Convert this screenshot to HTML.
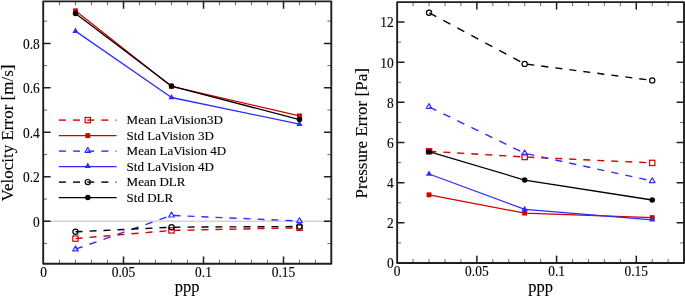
<!DOCTYPE html>
<html><head><meta charset="utf-8"><style>
html,body{margin:0;padding:0;background:#fff;}
svg{display:block;font-family:"Liberation Serif", serif;will-change:transform;} text{stroke:#000;stroke-width:0.12px;}
</style></head><body>
<svg width="685" height="297" viewBox="0 0 685 297">
<rect width="685" height="297" fill="#fff"/>
<line x1="43.20" y1="221.30" x2="331.30" y2="221.30" stroke="#d4d4d4" stroke-width="1.5" />
<line x1="75.50" y1="238.60" x2="82.50" y2="238.00" stroke="#d00000" stroke-width="1.4" stroke-linecap="butt"/>
<line x1="89.50" y1="237.40" x2="96.50" y2="236.81" stroke="#d00000" stroke-width="1.4" stroke-linecap="butt"/>
<line x1="103.50" y1="236.21" x2="110.50" y2="235.61" stroke="#d00000" stroke-width="1.4" stroke-linecap="butt"/>
<line x1="117.50" y1="235.01" x2="124.50" y2="234.41" stroke="#d00000" stroke-width="1.4" stroke-linecap="butt"/>
<line x1="131.50" y1="233.82" x2="138.50" y2="233.22" stroke="#d00000" stroke-width="1.4" stroke-linecap="butt"/>
<line x1="145.50" y1="232.62" x2="152.50" y2="232.02" stroke="#d00000" stroke-width="1.4" stroke-linecap="butt"/>
<line x1="159.50" y1="231.43" x2="166.50" y2="230.83" stroke="#d00000" stroke-width="1.4" stroke-linecap="butt"/>
<line x1="173.50" y1="230.36" x2="180.50" y2="230.22" stroke="#d00000" stroke-width="1.4" stroke-linecap="butt"/>
<line x1="187.50" y1="230.08" x2="194.50" y2="229.93" stroke="#d00000" stroke-width="1.4" stroke-linecap="butt"/>
<line x1="201.50" y1="229.79" x2="208.50" y2="229.65" stroke="#d00000" stroke-width="1.4" stroke-linecap="butt"/>
<line x1="215.50" y1="229.51" x2="222.50" y2="229.36" stroke="#d00000" stroke-width="1.4" stroke-linecap="butt"/>
<line x1="229.50" y1="229.22" x2="236.50" y2="229.08" stroke="#d00000" stroke-width="1.4" stroke-linecap="butt"/>
<line x1="243.50" y1="228.94" x2="250.50" y2="228.80" stroke="#d00000" stroke-width="1.4" stroke-linecap="butt"/>
<line x1="257.50" y1="228.65" x2="264.50" y2="228.51" stroke="#d00000" stroke-width="1.4" stroke-linecap="butt"/>
<line x1="271.50" y1="228.37" x2="278.50" y2="228.23" stroke="#d00000" stroke-width="1.4" stroke-linecap="butt"/>
<line x1="285.50" y1="228.08" x2="292.50" y2="227.94" stroke="#d00000" stroke-width="1.4" stroke-linecap="butt"/>
<polyline points="75.50,10.80 171.50,86.40 299.50,115.90" fill="none" stroke="#d00000" stroke-width="1.3" stroke-linejoin="round"/>
<rect x="72.85" y="235.95" width="5.3" height="5.3" fill="none" stroke="#d00000" stroke-width="1.2"/>
<rect x="168.85" y="227.75" width="5.3" height="5.3" fill="none" stroke="#d00000" stroke-width="1.2"/>
<rect x="296.85" y="225.15" width="5.3" height="5.3" fill="none" stroke="#d00000" stroke-width="1.2"/>
<rect x="73.05" y="8.35" width="4.9" height="4.9" fill="#d00000" stroke="none" stroke-width="1.2"/>
<rect x="169.05" y="83.95" width="4.9" height="4.9" fill="#d00000" stroke="none" stroke-width="1.2"/>
<rect x="297.05" y="113.45" width="4.9" height="4.9" fill="#d00000" stroke="none" stroke-width="1.2"/>
<line x1="75.50" y1="249.20" x2="82.50" y2="246.74" stroke="#2c2cff" stroke-width="1.4" stroke-linecap="butt"/>
<line x1="89.50" y1="244.27" x2="96.50" y2="241.81" stroke="#2c2cff" stroke-width="1.4" stroke-linecap="butt"/>
<line x1="103.50" y1="239.34" x2="110.50" y2="236.88" stroke="#2c2cff" stroke-width="1.4" stroke-linecap="butt"/>
<line x1="117.50" y1="234.41" x2="124.50" y2="231.95" stroke="#2c2cff" stroke-width="1.4" stroke-linecap="butt"/>
<line x1="131.50" y1="229.48" x2="138.50" y2="227.02" stroke="#2c2cff" stroke-width="1.4" stroke-linecap="butt"/>
<line x1="145.50" y1="224.55" x2="152.50" y2="222.09" stroke="#2c2cff" stroke-width="1.4" stroke-linecap="butt"/>
<line x1="159.50" y1="219.62" x2="166.50" y2="217.16" stroke="#2c2cff" stroke-width="1.4" stroke-linecap="butt"/>
<line x1="173.50" y1="215.49" x2="180.50" y2="215.79" stroke="#2c2cff" stroke-width="1.4" stroke-linecap="butt"/>
<line x1="187.50" y1="216.10" x2="194.50" y2="216.41" stroke="#2c2cff" stroke-width="1.4" stroke-linecap="butt"/>
<line x1="201.50" y1="216.71" x2="208.50" y2="217.02" stroke="#2c2cff" stroke-width="1.4" stroke-linecap="butt"/>
<line x1="215.50" y1="217.33" x2="222.50" y2="217.63" stroke="#2c2cff" stroke-width="1.4" stroke-linecap="butt"/>
<line x1="229.50" y1="217.94" x2="236.50" y2="218.24" stroke="#2c2cff" stroke-width="1.4" stroke-linecap="butt"/>
<line x1="243.50" y1="218.55" x2="250.50" y2="218.86" stroke="#2c2cff" stroke-width="1.4" stroke-linecap="butt"/>
<line x1="257.50" y1="219.16" x2="264.50" y2="219.47" stroke="#2c2cff" stroke-width="1.4" stroke-linecap="butt"/>
<line x1="271.50" y1="219.78" x2="278.50" y2="220.08" stroke="#2c2cff" stroke-width="1.4" stroke-linecap="butt"/>
<line x1="285.50" y1="220.39" x2="292.50" y2="220.69" stroke="#2c2cff" stroke-width="1.4" stroke-linecap="butt"/>
<polyline points="75.50,31.10 171.50,97.50 299.50,124.20" fill="none" stroke="#2c2cff" stroke-width="1.3" stroke-linejoin="round"/>
<polygon points="75.50,245.97 72.70,250.82 78.30,250.82" fill="none" stroke="#2c2cff" stroke-width="1.2" stroke-linejoin="round"/>
<polygon points="171.50,212.17 168.70,217.02 174.30,217.02" fill="none" stroke="#2c2cff" stroke-width="1.2" stroke-linejoin="round"/>
<polygon points="299.50,217.77 296.70,222.62 302.30,222.62" fill="none" stroke="#2c2cff" stroke-width="1.2" stroke-linejoin="round"/>
<polygon points="75.50,27.52 72.40,32.89 78.60,32.89" fill="#2c2cff" stroke="none" stroke-width="1.2" stroke-linejoin="round"/>
<polygon points="171.50,93.92 168.40,99.29 174.60,99.29" fill="#2c2cff" stroke="none" stroke-width="1.2" stroke-linejoin="round"/>
<polygon points="299.50,120.62 296.40,125.99 302.60,125.99" fill="#2c2cff" stroke="none" stroke-width="1.2" stroke-linejoin="round"/>
<line x1="75.50" y1="231.80" x2="82.50" y2="231.46" stroke="#000000" stroke-width="1.4" stroke-linecap="butt"/>
<line x1="89.50" y1="231.13" x2="96.50" y2="230.79" stroke="#000000" stroke-width="1.4" stroke-linecap="butt"/>
<line x1="103.50" y1="230.46" x2="110.50" y2="230.12" stroke="#000000" stroke-width="1.4" stroke-linecap="butt"/>
<line x1="117.50" y1="229.79" x2="124.50" y2="229.45" stroke="#000000" stroke-width="1.4" stroke-linecap="butt"/>
<line x1="131.50" y1="229.12" x2="138.50" y2="228.78" stroke="#000000" stroke-width="1.4" stroke-linecap="butt"/>
<line x1="145.50" y1="228.45" x2="152.50" y2="228.11" stroke="#000000" stroke-width="1.4" stroke-linecap="butt"/>
<line x1="159.50" y1="227.77" x2="166.50" y2="227.44" stroke="#000000" stroke-width="1.4" stroke-linecap="butt"/>
<line x1="173.50" y1="227.19" x2="180.50" y2="227.15" stroke="#000000" stroke-width="1.4" stroke-linecap="butt"/>
<line x1="187.50" y1="227.11" x2="194.50" y2="227.07" stroke="#000000" stroke-width="1.4" stroke-linecap="butt"/>
<line x1="201.50" y1="227.04" x2="208.50" y2="227.00" stroke="#000000" stroke-width="1.4" stroke-linecap="butt"/>
<line x1="215.50" y1="226.96" x2="222.50" y2="226.92" stroke="#000000" stroke-width="1.4" stroke-linecap="butt"/>
<line x1="229.50" y1="226.88" x2="236.50" y2="226.84" stroke="#000000" stroke-width="1.4" stroke-linecap="butt"/>
<line x1="243.50" y1="226.81" x2="250.50" y2="226.77" stroke="#000000" stroke-width="1.4" stroke-linecap="butt"/>
<line x1="257.50" y1="226.73" x2="264.50" y2="226.69" stroke="#000000" stroke-width="1.4" stroke-linecap="butt"/>
<line x1="271.50" y1="226.65" x2="278.50" y2="226.61" stroke="#000000" stroke-width="1.4" stroke-linecap="butt"/>
<line x1="285.50" y1="226.58" x2="292.50" y2="226.54" stroke="#000000" stroke-width="1.4" stroke-linecap="butt"/>
<polyline points="75.50,13.60 171.50,86.10 299.50,119.60" fill="none" stroke="#000000" stroke-width="1.3" stroke-linejoin="round"/>
<circle cx="75.50" cy="231.80" r="2.6" fill="none" stroke="#000000" stroke-width="1.2"/>
<circle cx="171.50" cy="227.20" r="2.6" fill="none" stroke="#000000" stroke-width="1.2"/>
<circle cx="299.50" cy="226.50" r="2.6" fill="none" stroke="#000000" stroke-width="1.2"/>
<circle cx="75.50" cy="13.60" r="2.75" fill="#000000" stroke="none" stroke-width="1.2"/>
<circle cx="171.50" cy="86.10" r="2.75" fill="#000000" stroke="none" stroke-width="1.2"/>
<circle cx="299.50" cy="119.60" r="2.75" fill="#000000" stroke="none" stroke-width="1.2"/>
<line x1="123.50" y1="263.70" x2="123.50" y2="256.90" stroke="#1e1e1e" stroke-width="1.5" stroke-linecap="round"/>
<line x1="123.50" y1="1.35" x2="123.50" y2="8.15" stroke="#1e1e1e" stroke-width="1.5" stroke-linecap="round"/>
<line x1="203.50" y1="263.70" x2="203.50" y2="256.90" stroke="#1e1e1e" stroke-width="1.5" stroke-linecap="round"/>
<line x1="203.50" y1="1.35" x2="203.50" y2="8.15" stroke="#1e1e1e" stroke-width="1.5" stroke-linecap="round"/>
<line x1="283.50" y1="263.70" x2="283.50" y2="256.90" stroke="#1e1e1e" stroke-width="1.5" stroke-linecap="round"/>
<line x1="283.50" y1="1.35" x2="283.50" y2="8.15" stroke="#1e1e1e" stroke-width="1.5" stroke-linecap="round"/>
<line x1="59.50" y1="263.70" x2="59.50" y2="260.20" stroke="#555" stroke-width="0.9" stroke-linecap="round"/>
<line x1="59.50" y1="1.35" x2="59.50" y2="4.85" stroke="#555" stroke-width="0.9" stroke-linecap="round"/>
<line x1="75.50" y1="263.70" x2="75.50" y2="260.20" stroke="#555" stroke-width="0.9" stroke-linecap="round"/>
<line x1="75.50" y1="1.35" x2="75.50" y2="4.85" stroke="#555" stroke-width="0.9" stroke-linecap="round"/>
<line x1="91.50" y1="263.70" x2="91.50" y2="260.20" stroke="#555" stroke-width="0.9" stroke-linecap="round"/>
<line x1="91.50" y1="1.35" x2="91.50" y2="4.85" stroke="#555" stroke-width="0.9" stroke-linecap="round"/>
<line x1="107.50" y1="263.70" x2="107.50" y2="260.20" stroke="#555" stroke-width="0.9" stroke-linecap="round"/>
<line x1="107.50" y1="1.35" x2="107.50" y2="4.85" stroke="#555" stroke-width="0.9" stroke-linecap="round"/>
<line x1="139.50" y1="263.70" x2="139.50" y2="260.20" stroke="#555" stroke-width="0.9" stroke-linecap="round"/>
<line x1="139.50" y1="1.35" x2="139.50" y2="4.85" stroke="#555" stroke-width="0.9" stroke-linecap="round"/>
<line x1="155.50" y1="263.70" x2="155.50" y2="260.20" stroke="#555" stroke-width="0.9" stroke-linecap="round"/>
<line x1="155.50" y1="1.35" x2="155.50" y2="4.85" stroke="#555" stroke-width="0.9" stroke-linecap="round"/>
<line x1="171.50" y1="263.70" x2="171.50" y2="260.20" stroke="#555" stroke-width="0.9" stroke-linecap="round"/>
<line x1="171.50" y1="1.35" x2="171.50" y2="4.85" stroke="#555" stroke-width="0.9" stroke-linecap="round"/>
<line x1="187.50" y1="263.70" x2="187.50" y2="260.20" stroke="#555" stroke-width="0.9" stroke-linecap="round"/>
<line x1="187.50" y1="1.35" x2="187.50" y2="4.85" stroke="#555" stroke-width="0.9" stroke-linecap="round"/>
<line x1="219.50" y1="263.70" x2="219.50" y2="260.20" stroke="#555" stroke-width="0.9" stroke-linecap="round"/>
<line x1="219.50" y1="1.35" x2="219.50" y2="4.85" stroke="#555" stroke-width="0.9" stroke-linecap="round"/>
<line x1="235.50" y1="263.70" x2="235.50" y2="260.20" stroke="#555" stroke-width="0.9" stroke-linecap="round"/>
<line x1="235.50" y1="1.35" x2="235.50" y2="4.85" stroke="#555" stroke-width="0.9" stroke-linecap="round"/>
<line x1="251.50" y1="263.70" x2="251.50" y2="260.20" stroke="#555" stroke-width="0.9" stroke-linecap="round"/>
<line x1="251.50" y1="1.35" x2="251.50" y2="4.85" stroke="#555" stroke-width="0.9" stroke-linecap="round"/>
<line x1="267.50" y1="263.70" x2="267.50" y2="260.20" stroke="#555" stroke-width="0.9" stroke-linecap="round"/>
<line x1="267.50" y1="1.35" x2="267.50" y2="4.85" stroke="#555" stroke-width="0.9" stroke-linecap="round"/>
<line x1="299.50" y1="263.70" x2="299.50" y2="260.20" stroke="#555" stroke-width="0.9" stroke-linecap="round"/>
<line x1="299.50" y1="1.35" x2="299.50" y2="4.85" stroke="#555" stroke-width="0.9" stroke-linecap="round"/>
<line x1="315.50" y1="263.70" x2="315.50" y2="260.20" stroke="#555" stroke-width="0.9" stroke-linecap="round"/>
<line x1="315.50" y1="1.35" x2="315.50" y2="4.85" stroke="#555" stroke-width="0.9" stroke-linecap="round"/>
<line x1="43.20" y1="176.82" x2="50.00" y2="176.82" stroke="#1e1e1e" stroke-width="1.5" stroke-linecap="round"/>
<line x1="331.30" y1="176.82" x2="324.50" y2="176.82" stroke="#1e1e1e" stroke-width="1.5" stroke-linecap="round"/>
<line x1="43.20" y1="132.34" x2="50.00" y2="132.34" stroke="#1e1e1e" stroke-width="1.5" stroke-linecap="round"/>
<line x1="331.30" y1="132.34" x2="324.50" y2="132.34" stroke="#1e1e1e" stroke-width="1.5" stroke-linecap="round"/>
<line x1="43.20" y1="87.86" x2="50.00" y2="87.86" stroke="#1e1e1e" stroke-width="1.5" stroke-linecap="round"/>
<line x1="331.30" y1="87.86" x2="324.50" y2="87.86" stroke="#1e1e1e" stroke-width="1.5" stroke-linecap="round"/>
<line x1="43.20" y1="43.38" x2="50.00" y2="43.38" stroke="#1e1e1e" stroke-width="1.5" stroke-linecap="round"/>
<line x1="331.30" y1="43.38" x2="324.50" y2="43.38" stroke="#1e1e1e" stroke-width="1.5" stroke-linecap="round"/>
<line x1="43.20" y1="221.30" x2="50.00" y2="221.30" stroke="#1e1e1e" stroke-width="1.5" stroke-linecap="round"/>
<line x1="331.30" y1="221.30" x2="324.50" y2="221.30" stroke="#1e1e1e" stroke-width="1.5" stroke-linecap="round"/>
<line x1="43.20" y1="243.54" x2="46.70" y2="243.54" stroke="#555" stroke-width="0.9" stroke-linecap="round"/>
<line x1="331.30" y1="243.54" x2="327.80" y2="243.54" stroke="#555" stroke-width="0.9" stroke-linecap="round"/>
<line x1="43.20" y1="199.06" x2="46.70" y2="199.06" stroke="#555" stroke-width="0.9" stroke-linecap="round"/>
<line x1="331.30" y1="199.06" x2="327.80" y2="199.06" stroke="#555" stroke-width="0.9" stroke-linecap="round"/>
<line x1="43.20" y1="154.58" x2="46.70" y2="154.58" stroke="#555" stroke-width="0.9" stroke-linecap="round"/>
<line x1="331.30" y1="154.58" x2="327.80" y2="154.58" stroke="#555" stroke-width="0.9" stroke-linecap="round"/>
<line x1="43.20" y1="110.10" x2="46.70" y2="110.10" stroke="#555" stroke-width="0.9" stroke-linecap="round"/>
<line x1="331.30" y1="110.10" x2="327.80" y2="110.10" stroke="#555" stroke-width="0.9" stroke-linecap="round"/>
<line x1="43.20" y1="65.62" x2="46.70" y2="65.62" stroke="#555" stroke-width="0.9" stroke-linecap="round"/>
<line x1="331.30" y1="65.62" x2="327.80" y2="65.62" stroke="#555" stroke-width="0.9" stroke-linecap="round"/>
<line x1="43.20" y1="21.14" x2="46.70" y2="21.14" stroke="#555" stroke-width="0.9" stroke-linecap="round"/>
<line x1="331.30" y1="21.14" x2="327.80" y2="21.14" stroke="#555" stroke-width="0.9" stroke-linecap="round"/>
<rect x="43.2" y="1.35" width="288.10" height="262.35" fill="none" stroke="#1e1e1e" stroke-width="1.9" stroke-linejoin="round"/>
<text transform="translate(39.80,226.90) scale(0.96,1)" font-size="14" text-anchor="end" >0</text>
<text transform="translate(39.80,182.42) scale(0.96,1)" font-size="14" text-anchor="end" >0.2</text>
<text transform="translate(39.80,137.94) scale(0.96,1)" font-size="14" text-anchor="end" >0.4</text>
<text transform="translate(39.80,93.46) scale(0.96,1)" font-size="14" text-anchor="end" >0.6</text>
<text transform="translate(39.80,48.98) scale(0.96,1)" font-size="14" text-anchor="end" >0.8</text>
<text transform="translate(43.50,277.20) scale(0.96,1)" font-size="14" text-anchor="middle" >0</text>
<text transform="translate(123.50,277.20) scale(0.96,1)" font-size="14" text-anchor="middle" >0.05</text>
<text transform="translate(203.50,277.20) scale(0.96,1)" font-size="14" text-anchor="middle" >0.1</text>
<text transform="translate(283.50,277.20) scale(0.96,1)" font-size="14" text-anchor="middle" >0.15</text>
<text x="187.00" y="291.90" font-size="16.5" text-anchor="middle" >ppp</text>
<text transform="translate(13.2,133.0) rotate(-90)" font-size="17" text-anchor="middle">Velocity Error [m/s]</text>
<line x1="58.90" y1="120.10" x2="65.90" y2="120.10" stroke="#d00000" stroke-width="1.4" stroke-linecap="butt"/>
<line x1="73.05" y1="120.10" x2="80.05" y2="120.10" stroke="#d00000" stroke-width="1.4" stroke-linecap="butt"/>
<line x1="87.20" y1="120.10" x2="94.20" y2="120.10" stroke="#d00000" stroke-width="1.4" stroke-linecap="butt"/>
<line x1="101.35" y1="120.10" x2="108.35" y2="120.10" stroke="#d00000" stroke-width="1.4" stroke-linecap="butt"/>
<line x1="115.50" y1="120.10" x2="116.60" y2="120.10" stroke="#d00000" stroke-width="1.4" stroke-linecap="butt"/>
<rect x="85.15" y="117.45" width="5.3" height="5.3" fill="none" stroke="#d00000" stroke-width="1.2"/>
<text x="126.60" y="124.10" font-size="13" text-anchor="start" >Mean LaVision3D</text>
<line x1="58.80" y1="135.60" x2="116.60" y2="135.60" stroke="#d00000" stroke-width="1.3" />
<rect x="85.35" y="133.15" width="4.9" height="4.9" fill="#d00000" stroke="none" stroke-width="1.2"/>
<text x="126.60" y="139.60" font-size="13" text-anchor="start" >Std LaVision 3D</text>
<line x1="58.90" y1="151.10" x2="65.90" y2="151.10" stroke="#2c2cff" stroke-width="1.4" stroke-linecap="butt"/>
<line x1="73.05" y1="151.10" x2="80.05" y2="151.10" stroke="#2c2cff" stroke-width="1.4" stroke-linecap="butt"/>
<line x1="87.20" y1="151.10" x2="94.20" y2="151.10" stroke="#2c2cff" stroke-width="1.4" stroke-linecap="butt"/>
<line x1="101.35" y1="151.10" x2="108.35" y2="151.10" stroke="#2c2cff" stroke-width="1.4" stroke-linecap="butt"/>
<line x1="115.50" y1="151.10" x2="116.60" y2="151.10" stroke="#2c2cff" stroke-width="1.4" stroke-linecap="butt"/>
<polygon points="87.80,147.47 85.00,152.32 90.60,152.32" fill="none" stroke="#2c2cff" stroke-width="1.2" stroke-linejoin="round"/>
<text x="126.60" y="155.10" font-size="13" text-anchor="start" >Mean LaVision 4D</text>
<line x1="58.80" y1="166.60" x2="116.60" y2="166.60" stroke="#2c2cff" stroke-width="1.3" />
<polygon points="87.80,162.62 84.70,167.99 90.90,167.99" fill="#2c2cff" stroke="none" stroke-width="1.2" stroke-linejoin="round"/>
<text x="126.60" y="170.60" font-size="13" text-anchor="start" >Std LaVision 4D</text>
<line x1="58.90" y1="182.10" x2="65.90" y2="182.10" stroke="#000000" stroke-width="1.4" stroke-linecap="butt"/>
<line x1="73.05" y1="182.10" x2="80.05" y2="182.10" stroke="#000000" stroke-width="1.4" stroke-linecap="butt"/>
<line x1="87.20" y1="182.10" x2="94.20" y2="182.10" stroke="#000000" stroke-width="1.4" stroke-linecap="butt"/>
<line x1="101.35" y1="182.10" x2="108.35" y2="182.10" stroke="#000000" stroke-width="1.4" stroke-linecap="butt"/>
<line x1="115.50" y1="182.10" x2="116.60" y2="182.10" stroke="#000000" stroke-width="1.4" stroke-linecap="butt"/>
<circle cx="87.80" cy="182.10" r="2.6" fill="none" stroke="#000000" stroke-width="1.2"/>
<text x="126.60" y="186.10" font-size="13" text-anchor="start" >Mean DLR</text>
<line x1="58.80" y1="197.60" x2="116.60" y2="197.60" stroke="#000000" stroke-width="1.3" />
<circle cx="87.80" cy="197.60" r="2.75" fill="#000000" stroke="none" stroke-width="1.2"/>
<text x="126.60" y="201.60" font-size="13" text-anchor="start" >Std DLR</text>
<line x1="429.30" y1="151.32" x2="436.30" y2="151.73" stroke="#d00000" stroke-width="1.4" stroke-linecap="butt"/>
<line x1="443.30" y1="152.15" x2="450.30" y2="152.57" stroke="#d00000" stroke-width="1.4" stroke-linecap="butt"/>
<line x1="457.30" y1="152.98" x2="464.30" y2="153.40" stroke="#d00000" stroke-width="1.4" stroke-linecap="butt"/>
<line x1="471.30" y1="153.82" x2="478.30" y2="154.24" stroke="#d00000" stroke-width="1.4" stroke-linecap="butt"/>
<line x1="485.30" y1="154.65" x2="492.30" y2="155.07" stroke="#d00000" stroke-width="1.4" stroke-linecap="butt"/>
<line x1="499.30" y1="155.49" x2="506.30" y2="155.90" stroke="#d00000" stroke-width="1.4" stroke-linecap="butt"/>
<line x1="513.30" y1="156.32" x2="520.30" y2="156.74" stroke="#d00000" stroke-width="1.4" stroke-linecap="butt"/>
<line x1="527.30" y1="157.12" x2="534.30" y2="157.44" stroke="#d00000" stroke-width="1.4" stroke-linecap="butt"/>
<line x1="541.30" y1="157.77" x2="548.30" y2="158.09" stroke="#d00000" stroke-width="1.4" stroke-linecap="butt"/>
<line x1="555.30" y1="158.42" x2="562.30" y2="158.74" stroke="#d00000" stroke-width="1.4" stroke-linecap="butt"/>
<line x1="569.30" y1="159.06" x2="576.30" y2="159.39" stroke="#d00000" stroke-width="1.4" stroke-linecap="butt"/>
<line x1="583.30" y1="159.71" x2="590.30" y2="160.03" stroke="#d00000" stroke-width="1.4" stroke-linecap="butt"/>
<line x1="597.30" y1="160.36" x2="604.30" y2="160.68" stroke="#d00000" stroke-width="1.4" stroke-linecap="butt"/>
<line x1="611.30" y1="161.01" x2="618.30" y2="161.33" stroke="#d00000" stroke-width="1.4" stroke-linecap="butt"/>
<line x1="625.30" y1="161.65" x2="632.30" y2="161.98" stroke="#d00000" stroke-width="1.4" stroke-linecap="butt"/>
<line x1="639.30" y1="162.30" x2="646.30" y2="162.63" stroke="#d00000" stroke-width="1.4" stroke-linecap="butt"/>
<polyline points="429.04,194.80 524.69,213.10 652.24,217.60" fill="none" stroke="#d00000" stroke-width="1.3" stroke-linejoin="round"/>
<rect x="426.39" y="148.65" width="5.3" height="5.3" fill="none" stroke="#d00000" stroke-width="1.2"/>
<rect x="522.04" y="154.35" width="5.3" height="5.3" fill="none" stroke="#d00000" stroke-width="1.2"/>
<rect x="649.59" y="160.25" width="5.3" height="5.3" fill="none" stroke="#d00000" stroke-width="1.2"/>
<rect x="426.59" y="192.35" width="4.9" height="4.9" fill="#d00000" stroke="none" stroke-width="1.2"/>
<rect x="522.24" y="210.65" width="4.9" height="4.9" fill="#d00000" stroke="none" stroke-width="1.2"/>
<rect x="649.79" y="215.15" width="4.9" height="4.9" fill="#d00000" stroke="none" stroke-width="1.2"/>
<line x1="429.30" y1="107.03" x2="436.30" y2="110.42" stroke="#2c2cff" stroke-width="1.4" stroke-linecap="butt"/>
<line x1="443.30" y1="113.82" x2="450.30" y2="117.21" stroke="#2c2cff" stroke-width="1.4" stroke-linecap="butt"/>
<line x1="457.30" y1="120.61" x2="464.30" y2="124.01" stroke="#2c2cff" stroke-width="1.4" stroke-linecap="butt"/>
<line x1="471.30" y1="127.40" x2="478.30" y2="130.80" stroke="#2c2cff" stroke-width="1.4" stroke-linecap="butt"/>
<line x1="485.30" y1="134.19" x2="492.30" y2="137.59" stroke="#2c2cff" stroke-width="1.4" stroke-linecap="butt"/>
<line x1="499.30" y1="140.98" x2="506.30" y2="144.38" stroke="#2c2cff" stroke-width="1.4" stroke-linecap="butt"/>
<line x1="513.30" y1="147.77" x2="520.30" y2="151.17" stroke="#2c2cff" stroke-width="1.4" stroke-linecap="butt"/>
<line x1="527.30" y1="153.87" x2="534.30" y2="155.39" stroke="#2c2cff" stroke-width="1.4" stroke-linecap="butt"/>
<line x1="541.30" y1="156.91" x2="548.30" y2="158.43" stroke="#2c2cff" stroke-width="1.4" stroke-linecap="butt"/>
<line x1="555.30" y1="159.95" x2="562.30" y2="161.47" stroke="#2c2cff" stroke-width="1.4" stroke-linecap="butt"/>
<line x1="569.30" y1="162.99" x2="576.30" y2="164.51" stroke="#2c2cff" stroke-width="1.4" stroke-linecap="butt"/>
<line x1="583.30" y1="166.03" x2="590.30" y2="167.55" stroke="#2c2cff" stroke-width="1.4" stroke-linecap="butt"/>
<line x1="597.30" y1="169.07" x2="604.30" y2="170.59" stroke="#2c2cff" stroke-width="1.4" stroke-linecap="butt"/>
<line x1="611.30" y1="172.11" x2="618.30" y2="173.63" stroke="#2c2cff" stroke-width="1.4" stroke-linecap="butt"/>
<line x1="625.30" y1="175.15" x2="632.30" y2="176.67" stroke="#2c2cff" stroke-width="1.4" stroke-linecap="butt"/>
<line x1="639.30" y1="178.19" x2="646.30" y2="179.71" stroke="#2c2cff" stroke-width="1.4" stroke-linecap="butt"/>
<polyline points="429.04,174.00 524.69,209.30 652.24,219.80" fill="none" stroke="#2c2cff" stroke-width="1.3" stroke-linejoin="round"/>
<polygon points="429.04,103.67 426.24,108.52 431.84,108.52" fill="none" stroke="#2c2cff" stroke-width="1.2" stroke-linejoin="round"/>
<polygon points="524.69,150.07 521.89,154.92 527.49,154.92" fill="none" stroke="#2c2cff" stroke-width="1.2" stroke-linejoin="round"/>
<polygon points="652.24,177.77 649.44,182.62 655.04,182.62" fill="none" stroke="#2c2cff" stroke-width="1.2" stroke-linejoin="round"/>
<polygon points="429.04,170.42 425.94,175.79 432.14,175.79" fill="#2c2cff" stroke="none" stroke-width="1.2" stroke-linejoin="round"/>
<polygon points="524.69,205.72 521.59,211.09 527.79,211.09" fill="#2c2cff" stroke="none" stroke-width="1.2" stroke-linejoin="round"/>
<polygon points="652.24,216.22 649.14,221.59 655.34,221.59" fill="#2c2cff" stroke="none" stroke-width="1.2" stroke-linejoin="round"/>
<line x1="429.30" y1="12.84" x2="436.30" y2="16.59" stroke="#000000" stroke-width="1.4" stroke-linecap="butt"/>
<line x1="443.30" y1="20.33" x2="450.30" y2="24.08" stroke="#000000" stroke-width="1.4" stroke-linecap="butt"/>
<line x1="457.30" y1="27.83" x2="464.30" y2="31.57" stroke="#000000" stroke-width="1.4" stroke-linecap="butt"/>
<line x1="471.30" y1="35.32" x2="478.30" y2="39.07" stroke="#000000" stroke-width="1.4" stroke-linecap="butt"/>
<line x1="485.30" y1="42.81" x2="492.30" y2="46.56" stroke="#000000" stroke-width="1.4" stroke-linecap="butt"/>
<line x1="499.30" y1="50.31" x2="506.30" y2="54.05" stroke="#000000" stroke-width="1.4" stroke-linecap="butt"/>
<line x1="513.30" y1="57.80" x2="520.30" y2="61.55" stroke="#000000" stroke-width="1.4" stroke-linecap="butt"/>
<line x1="527.30" y1="64.24" x2="534.30" y2="65.14" stroke="#000000" stroke-width="1.4" stroke-linecap="butt"/>
<line x1="541.30" y1="66.05" x2="548.30" y2="66.95" stroke="#000000" stroke-width="1.4" stroke-linecap="butt"/>
<line x1="555.30" y1="67.86" x2="562.30" y2="68.76" stroke="#000000" stroke-width="1.4" stroke-linecap="butt"/>
<line x1="569.30" y1="69.67" x2="576.30" y2="70.58" stroke="#000000" stroke-width="1.4" stroke-linecap="butt"/>
<line x1="583.30" y1="71.48" x2="590.30" y2="72.39" stroke="#000000" stroke-width="1.4" stroke-linecap="butt"/>
<line x1="597.30" y1="73.29" x2="604.30" y2="74.20" stroke="#000000" stroke-width="1.4" stroke-linecap="butt"/>
<line x1="611.30" y1="75.10" x2="618.30" y2="76.01" stroke="#000000" stroke-width="1.4" stroke-linecap="butt"/>
<line x1="625.30" y1="76.92" x2="632.30" y2="77.82" stroke="#000000" stroke-width="1.4" stroke-linecap="butt"/>
<line x1="639.30" y1="78.73" x2="646.30" y2="79.63" stroke="#000000" stroke-width="1.4" stroke-linecap="butt"/>
<polyline points="429.04,151.70 524.69,180.05 652.24,200.00" fill="none" stroke="#000000" stroke-width="1.3" stroke-linejoin="round"/>
<circle cx="429.04" cy="12.70" r="2.6" fill="none" stroke="#000000" stroke-width="1.2"/>
<circle cx="524.69" cy="63.90" r="2.6" fill="none" stroke="#000000" stroke-width="1.2"/>
<circle cx="652.24" cy="80.40" r="2.6" fill="none" stroke="#000000" stroke-width="1.2"/>
<circle cx="429.04" cy="151.70" r="2.75" fill="#000000" stroke="none" stroke-width="1.2"/>
<circle cx="524.69" cy="180.05" r="2.75" fill="#000000" stroke="none" stroke-width="1.2"/>
<circle cx="652.24" cy="200.00" r="2.75" fill="#000000" stroke="none" stroke-width="1.2"/>
<line x1="476.87" y1="263.00" x2="476.87" y2="256.20" stroke="#1e1e1e" stroke-width="1.5" stroke-linecap="round"/>
<line x1="476.87" y1="2.15" x2="476.87" y2="8.95" stroke="#1e1e1e" stroke-width="1.5" stroke-linecap="round"/>
<line x1="556.58" y1="263.00" x2="556.58" y2="256.20" stroke="#1e1e1e" stroke-width="1.5" stroke-linecap="round"/>
<line x1="556.58" y1="2.15" x2="556.58" y2="8.95" stroke="#1e1e1e" stroke-width="1.5" stroke-linecap="round"/>
<line x1="636.29" y1="263.00" x2="636.29" y2="256.20" stroke="#1e1e1e" stroke-width="1.5" stroke-linecap="round"/>
<line x1="636.29" y1="2.15" x2="636.29" y2="8.95" stroke="#1e1e1e" stroke-width="1.5" stroke-linecap="round"/>
<line x1="413.09" y1="263.00" x2="413.09" y2="259.50" stroke="#555" stroke-width="0.9" stroke-linecap="round"/>
<line x1="413.09" y1="2.15" x2="413.09" y2="5.65" stroke="#555" stroke-width="0.9" stroke-linecap="round"/>
<line x1="429.04" y1="263.00" x2="429.04" y2="259.50" stroke="#555" stroke-width="0.9" stroke-linecap="round"/>
<line x1="429.04" y1="2.15" x2="429.04" y2="5.65" stroke="#555" stroke-width="0.9" stroke-linecap="round"/>
<line x1="444.98" y1="263.00" x2="444.98" y2="259.50" stroke="#555" stroke-width="0.9" stroke-linecap="round"/>
<line x1="444.98" y1="2.15" x2="444.98" y2="5.65" stroke="#555" stroke-width="0.9" stroke-linecap="round"/>
<line x1="460.92" y1="263.00" x2="460.92" y2="259.50" stroke="#555" stroke-width="0.9" stroke-linecap="round"/>
<line x1="460.92" y1="2.15" x2="460.92" y2="5.65" stroke="#555" stroke-width="0.9" stroke-linecap="round"/>
<line x1="492.81" y1="263.00" x2="492.81" y2="259.50" stroke="#555" stroke-width="0.9" stroke-linecap="round"/>
<line x1="492.81" y1="2.15" x2="492.81" y2="5.65" stroke="#555" stroke-width="0.9" stroke-linecap="round"/>
<line x1="508.75" y1="263.00" x2="508.75" y2="259.50" stroke="#555" stroke-width="0.9" stroke-linecap="round"/>
<line x1="508.75" y1="2.15" x2="508.75" y2="5.65" stroke="#555" stroke-width="0.9" stroke-linecap="round"/>
<line x1="524.69" y1="263.00" x2="524.69" y2="259.50" stroke="#555" stroke-width="0.9" stroke-linecap="round"/>
<line x1="524.69" y1="2.15" x2="524.69" y2="5.65" stroke="#555" stroke-width="0.9" stroke-linecap="round"/>
<line x1="540.64" y1="263.00" x2="540.64" y2="259.50" stroke="#555" stroke-width="0.9" stroke-linecap="round"/>
<line x1="540.64" y1="2.15" x2="540.64" y2="5.65" stroke="#555" stroke-width="0.9" stroke-linecap="round"/>
<line x1="572.52" y1="263.00" x2="572.52" y2="259.50" stroke="#555" stroke-width="0.9" stroke-linecap="round"/>
<line x1="572.52" y1="2.15" x2="572.52" y2="5.65" stroke="#555" stroke-width="0.9" stroke-linecap="round"/>
<line x1="588.47" y1="263.00" x2="588.47" y2="259.50" stroke="#555" stroke-width="0.9" stroke-linecap="round"/>
<line x1="588.47" y1="2.15" x2="588.47" y2="5.65" stroke="#555" stroke-width="0.9" stroke-linecap="round"/>
<line x1="604.41" y1="263.00" x2="604.41" y2="259.50" stroke="#555" stroke-width="0.9" stroke-linecap="round"/>
<line x1="604.41" y1="2.15" x2="604.41" y2="5.65" stroke="#555" stroke-width="0.9" stroke-linecap="round"/>
<line x1="620.35" y1="263.00" x2="620.35" y2="259.50" stroke="#555" stroke-width="0.9" stroke-linecap="round"/>
<line x1="620.35" y1="2.15" x2="620.35" y2="5.65" stroke="#555" stroke-width="0.9" stroke-linecap="round"/>
<line x1="652.24" y1="263.00" x2="652.24" y2="259.50" stroke="#555" stroke-width="0.9" stroke-linecap="round"/>
<line x1="652.24" y1="2.15" x2="652.24" y2="5.65" stroke="#555" stroke-width="0.9" stroke-linecap="round"/>
<line x1="668.18" y1="263.00" x2="668.18" y2="259.50" stroke="#555" stroke-width="0.9" stroke-linecap="round"/>
<line x1="668.18" y1="2.15" x2="668.18" y2="5.65" stroke="#555" stroke-width="0.9" stroke-linecap="round"/>
<line x1="397.15" y1="222.84" x2="403.95" y2="222.84" stroke="#1e1e1e" stroke-width="1.5" stroke-linecap="round"/>
<line x1="684.00" y1="222.84" x2="677.20" y2="222.84" stroke="#1e1e1e" stroke-width="1.5" stroke-linecap="round"/>
<line x1="397.15" y1="182.68" x2="403.95" y2="182.68" stroke="#1e1e1e" stroke-width="1.5" stroke-linecap="round"/>
<line x1="684.00" y1="182.68" x2="677.20" y2="182.68" stroke="#1e1e1e" stroke-width="1.5" stroke-linecap="round"/>
<line x1="397.15" y1="142.52" x2="403.95" y2="142.52" stroke="#1e1e1e" stroke-width="1.5" stroke-linecap="round"/>
<line x1="684.00" y1="142.52" x2="677.20" y2="142.52" stroke="#1e1e1e" stroke-width="1.5" stroke-linecap="round"/>
<line x1="397.15" y1="102.36" x2="403.95" y2="102.36" stroke="#1e1e1e" stroke-width="1.5" stroke-linecap="round"/>
<line x1="684.00" y1="102.36" x2="677.20" y2="102.36" stroke="#1e1e1e" stroke-width="1.5" stroke-linecap="round"/>
<line x1="397.15" y1="62.20" x2="403.95" y2="62.20" stroke="#1e1e1e" stroke-width="1.5" stroke-linecap="round"/>
<line x1="684.00" y1="62.20" x2="677.20" y2="62.20" stroke="#1e1e1e" stroke-width="1.5" stroke-linecap="round"/>
<line x1="397.15" y1="22.04" x2="403.95" y2="22.04" stroke="#1e1e1e" stroke-width="1.5" stroke-linecap="round"/>
<line x1="684.00" y1="22.04" x2="677.20" y2="22.04" stroke="#1e1e1e" stroke-width="1.5" stroke-linecap="round"/>
<line x1="397.15" y1="242.92" x2="400.65" y2="242.92" stroke="#555" stroke-width="0.9" stroke-linecap="round"/>
<line x1="684.00" y1="242.92" x2="680.50" y2="242.92" stroke="#555" stroke-width="0.9" stroke-linecap="round"/>
<line x1="397.15" y1="202.76" x2="400.65" y2="202.76" stroke="#555" stroke-width="0.9" stroke-linecap="round"/>
<line x1="684.00" y1="202.76" x2="680.50" y2="202.76" stroke="#555" stroke-width="0.9" stroke-linecap="round"/>
<line x1="397.15" y1="162.60" x2="400.65" y2="162.60" stroke="#555" stroke-width="0.9" stroke-linecap="round"/>
<line x1="684.00" y1="162.60" x2="680.50" y2="162.60" stroke="#555" stroke-width="0.9" stroke-linecap="round"/>
<line x1="397.15" y1="122.44" x2="400.65" y2="122.44" stroke="#555" stroke-width="0.9" stroke-linecap="round"/>
<line x1="684.00" y1="122.44" x2="680.50" y2="122.44" stroke="#555" stroke-width="0.9" stroke-linecap="round"/>
<line x1="397.15" y1="82.28" x2="400.65" y2="82.28" stroke="#555" stroke-width="0.9" stroke-linecap="round"/>
<line x1="684.00" y1="82.28" x2="680.50" y2="82.28" stroke="#555" stroke-width="0.9" stroke-linecap="round"/>
<line x1="397.15" y1="42.12" x2="400.65" y2="42.12" stroke="#555" stroke-width="0.9" stroke-linecap="round"/>
<line x1="684.00" y1="42.12" x2="680.50" y2="42.12" stroke="#555" stroke-width="0.9" stroke-linecap="round"/>
<rect x="397.15" y="2.15" width="286.85" height="260.85" fill="none" stroke="#1e1e1e" stroke-width="1.9" stroke-linejoin="round"/>
<text transform="translate(393.60,268.30) scale(0.96,1)" font-size="14" text-anchor="end" >0</text>
<text transform="translate(393.60,228.14) scale(0.96,1)" font-size="14" text-anchor="end" >2</text>
<text transform="translate(393.60,187.98) scale(0.96,1)" font-size="14" text-anchor="end" >4</text>
<text transform="translate(393.60,147.82) scale(0.96,1)" font-size="14" text-anchor="end" >6</text>
<text transform="translate(393.60,107.66) scale(0.96,1)" font-size="14" text-anchor="end" >8</text>
<text transform="translate(393.60,67.50) scale(0.96,1)" font-size="14" text-anchor="end" >10</text>
<text transform="translate(393.60,27.34) scale(0.96,1)" font-size="14" text-anchor="end" >12</text>
<text transform="translate(397.15,276.40) scale(0.96,1)" font-size="14" text-anchor="middle" >0</text>
<text transform="translate(476.87,276.40) scale(0.96,1)" font-size="14" text-anchor="middle" >0.05</text>
<text transform="translate(556.58,276.40) scale(0.96,1)" font-size="14" text-anchor="middle" >0.1</text>
<text transform="translate(636.29,276.40) scale(0.96,1)" font-size="14" text-anchor="middle" >0.15</text>
<text x="540.50" y="291.50" font-size="16.5" text-anchor="middle" >ppp</text>
<text transform="translate(366.6,133.3) rotate(-90)" font-size="17" text-anchor="middle">Pressure Error [Pa]</text>
</svg></body></html>
